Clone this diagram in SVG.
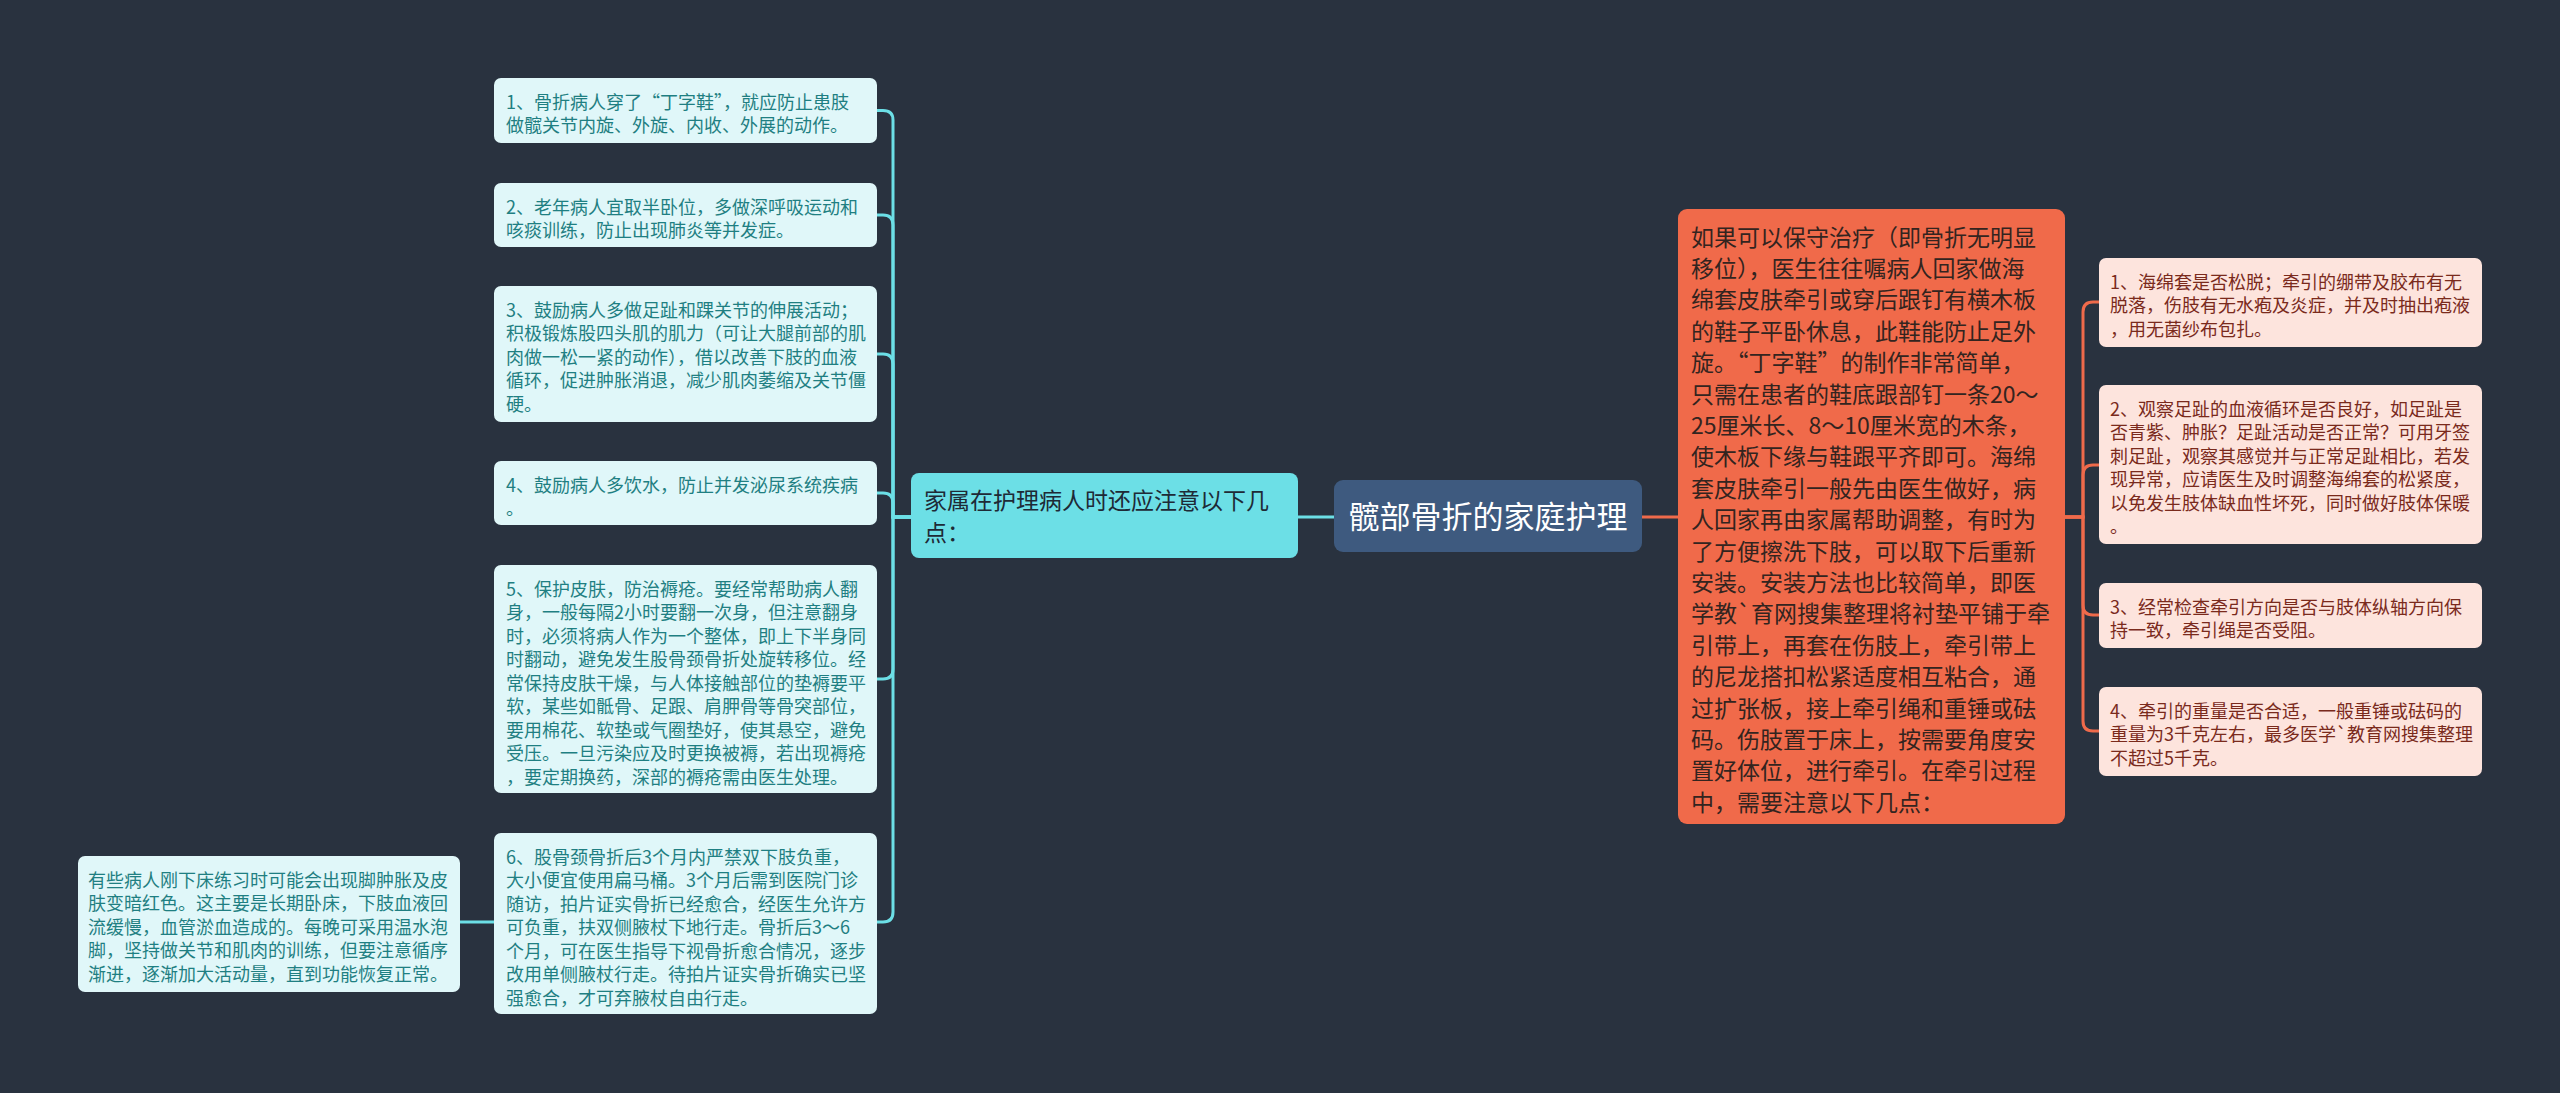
<svg xmlns="http://www.w3.org/2000/svg" width="2560" height="1093" viewBox="0 0 2560 1093">
<style>
text{font-family:"Noto Sans CJK SC","Noto Sans",sans-serif;}
.fw{font-feature-settings:"fwid";}
.lf rect{fill:#e0f7f9;}
.lf text{font-size:18px;fill:#1f7f82;}
.rf rect{fill:#fde4dd;}
.rf text{font-size:18px;fill:#7a2a1c;}
.cy{fill:none;stroke:#6cdfe6;stroke-width:3;}
.rd{fill:none;stroke:#ef6a4b;stroke-width:3;}
</style>
<rect width="2560" height="1093" fill="#29323f"/>
<g id="connectors">
<path class="cy" d="M911 517H893V120Q893 110.5 883 110.5H877"/>
<path class="cy" d="M911 517H893V225Q893 215 883 215H877"/>
<path class="cy" d="M911 517H893V364Q893 354 883 354H877"/>
<path class="cy" d="M911 517H893V503Q893 493 883 493H877"/>
<path class="cy" d="M911 517H893V669Q893 679 883 679H877"/>
<path class="cy" d="M911 517H893V912Q893 922 883 922H877"/>
<path class="cy" d="M494 922H460"/>
<path class="cy" d="M1298 517H1334"/>
<path class="rd" d="M1642 517H1678"/>
<path class="rd" d="M2065 517H2083V312Q2083 302 2093 302H2099"/>
<path class="rd" d="M2065 517H2083V475Q2083 465 2093 465H2099"/>
<path class="rd" d="M2065 517H2083V605Q2083 615 2093 615H2099"/>
<path class="rd" d="M2065 517H2083V721Q2083 731 2093 731H2099"/>
</g>
<g id="center">
<rect x="1334" y="480" width="308" height="72" rx="9" fill="#3e5a7f"/>
<text x="1488" y="527.5" font-size="31" fill="#ffffff" text-anchor="middle">髋部骨折的家庭护理</text>
</g>
<g id="n-family">
<rect x="911" y="473" width="387" height="85" rx="8" fill="#6cdfe6"/>
<text x="924" y="508.5" font-size="23" fill="#1e2a36">家属在护理病人时还应注意以下几</text>
<text x="924" y="540.5" font-size="23" fill="#1e2a36">点：</text>
</g>
<g id="n-l1" class="lf">
<rect x="494" y="78" width="383" height="65" rx="7"/>
<text x="506" y="108.5">1、骨折病人穿了<tspan class="fw">“</tspan>丁字鞋<tspan class="fw">”</tspan>，就应防止患肢</text>
<text x="506" y="132">做髋关节内旋、外旋、内收、外展的动作。</text>
</g>
<g id="n-l2" class="lf">
<rect x="494" y="183" width="383" height="64" rx="7"/>
<text x="506" y="213.5">2、老年病人宜取半卧位，多做深呼吸运动和</text>
<text x="506" y="237">咳痰训练，防止出现肺炎等并发症。</text>
</g>
<g id="n-l3" class="lf">
<rect x="494" y="286" width="383" height="136" rx="7"/>
<text x="506" y="316.5">3、鼓励病人多做足趾和踝关节的伸展活动；</text>
<text x="506" y="340">积极锻炼股四头肌的肌力（可让大腿前部的肌</text>
<text x="506" y="363.5">肉做一松一紧的动作），借以改善下肢的血液</text>
<text x="506" y="387">循环，促进肿胀消退，减少肌肉萎缩及关节僵</text>
<text x="506" y="410.5">硬。</text>
</g>
<g id="n-l4" class="lf">
<rect x="494" y="461" width="383" height="64" rx="7"/>
<text x="506" y="491.5">4、鼓励病人多饮水，防止并发泌尿系统疾病</text>
<text x="506" y="515">。</text>
</g>
<g id="n-l5" class="lf">
<rect x="494" y="565" width="383" height="228" rx="7"/>
<text x="506" y="595.5">5、保护皮肤，防治褥疮。要经常帮助病人翻</text>
<text x="506" y="619">身，一般每隔2小时要翻一次身，但注意翻身</text>
<text x="506" y="642.5">时，必须将病人作为一个整体，即上下半身同</text>
<text x="506" y="666">时翻动，避免发生股骨颈骨折处旋转移位。经</text>
<text x="506" y="689.5">常保持皮肤干燥，与人体接触部位的垫褥要平</text>
<text x="506" y="713">软，某些如骶骨、足跟、肩胛骨等骨突部位，</text>
<text x="506" y="736.5">要用棉花、软垫或气圈垫好，使其悬空，避免</text>
<text x="506" y="760">受压。一旦污染应及时更换被褥，若出现褥疮</text>
<text x="506" y="783.5">，要定期换药，深部的褥疮需由医生处理。</text>
</g>
<g id="n-l6" class="lf">
<rect x="494" y="833" width="383" height="181" rx="7"/>
<text x="506" y="863.5">6、股骨颈骨折后3个月内严禁双下肢负重，</text>
<text x="506" y="887">大小便宜使用扁马桶。3个月后需到医院门诊</text>
<text x="506" y="910.5">随访，拍片证实骨折已经愈合，经医生允许方</text>
<text x="506" y="934">可负重，扶双侧腋杖下地行走。骨折后3～6</text>
<text x="506" y="957.5">个月，可在医生指导下视骨折愈合情况，逐步</text>
<text x="506" y="981">改用单侧腋杖行走。待拍片证实骨折确实已坚</text>
<text x="506" y="1004.5">强愈合，才可弃腋杖自由行走。</text>
</g>
<g id="n-l6a" class="lf">
<rect x="78" y="856" width="382" height="136" rx="7"/>
<text x="88" y="886.5">有些病人刚下床练习时可能会出现脚肿胀及皮</text>
<text x="88" y="910">肤变暗红色。这主要是长期卧床，下肢血液回</text>
<text x="88" y="933.5">流缓慢，血管淤血造成的。每晚可采用温水泡</text>
<text x="88" y="957">脚，坚持做关节和肌肉的训练，但要注意循序</text>
<text x="88" y="980.5">渐进，逐渐加大活动量，直到功能恢复正常。</text>
</g>
<g id="n-traction">
<rect x="1678" y="209" width="387" height="615" rx="9" fill="#f06a4a"/>
<g font-size="23" fill="#33241f">
<text x="1691" y="245.5">如果可以保守治疗（即骨折无明显</text>
<text x="1691" y="276.9">移位），医生往往嘱病人回家做海</text>
<text x="1691" y="308.3">绵套皮肤牵引或穿后跟钉有横木板</text>
<text x="1691" y="339.7">的鞋子平卧休息，此鞋能防止足外</text>
<text x="1691" y="371.1">旋。<tspan class="fw">“</tspan>丁字鞋<tspan class="fw">”</tspan>的制作非常简单，</text>
<text x="1691" y="402.5">只需在患者的鞋底跟部钉一条20～</text>
<text x="1691" y="433.9">25厘米长、8～10厘米宽的木条，</text>
<text x="1691" y="465.3">使木板下缘与鞋跟平齐即可。海绵</text>
<text x="1691" y="496.7">套皮肤牵引一般先由医生做好，病</text>
<text x="1691" y="528.1">人回家再由家属帮助调整，有时为</text>
<text x="1691" y="559.5">了方便擦洗下肢，可以取下后重新</text>
<text x="1691" y="590.9">安装。安装方法也比较简单，即医</text>
<text x="1691" y="622.3">学教`育网搜集整理将衬垫平铺于牵</text>
<text x="1691" y="653.7">引带上，再套在伤肢上，牵引带上</text>
<text x="1691" y="685.1">的尼龙搭扣松紧适度相互粘合，通</text>
<text x="1691" y="716.5">过扩张板，接上牵引绳和重锤或砝</text>
<text x="1691" y="747.9">码。伤肢置于床上，按需要角度安</text>
<text x="1691" y="779.3">置好体位，进行牵引。在牵引过程</text>
<text x="1691" y="810.7">中，需要注意以下几点：</text>
</g>
</g>
<g id="n-r1" class="rf">
<rect x="2099" y="258" width="383" height="89" rx="7"/>
<text x="2110" y="288.5">1、海绵套是否松脱；牵引的绷带及胶布有无</text>
<text x="2110" y="312">脱落，伤肢有无水疱及炎症，并及时抽出疱液</text>
<text x="2110" y="335.5">，用无菌纱布包扎。</text>
</g>
<g id="n-r2" class="rf">
<rect x="2099" y="385" width="383" height="159" rx="7"/>
<text x="2110" y="415.5">2、观察足趾的血液循环是否良好，如足趾是</text>
<text x="2110" y="439">否青紫、肿胀？足趾活动是否正常？可用牙签</text>
<text x="2110" y="462.5">刺足趾，观察其感觉并与正常足趾相比，若发</text>
<text x="2110" y="486">现异常，应请医生及时调整海绵套的松紧度，</text>
<text x="2110" y="509.5">以免发生肢体缺血性坏死，同时做好肢体保暖</text>
<text x="2110" y="533">。</text>
</g>
<g id="n-r3" class="rf">
<rect x="2099" y="583" width="383" height="65" rx="7"/>
<text x="2110" y="613.5">3、经常检查牵引方向是否与肢体纵轴方向保</text>
<text x="2110" y="637">持一致，牵引绳是否受阻。</text>
</g>
<g id="n-r4" class="rf">
<rect x="2099" y="687" width="383" height="89" rx="7"/>
<text x="2110" y="717.5">4、牵引的重量是否合适，一般重锤或砝码的</text>
<text x="2110" y="741">重量为3千克左右，最多医学`教育网搜集整理</text>
<text x="2110" y="764.5">不超过5千克。</text>
</g>
</svg>
